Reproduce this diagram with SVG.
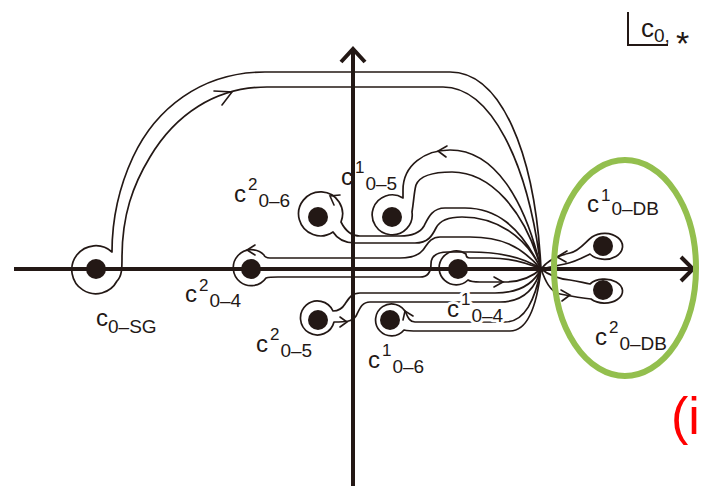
<svg xmlns="http://www.w3.org/2000/svg" width="708" height="486" viewBox="0 0 708 486">
<style>
.ln{fill:none;stroke:#231815;stroke-width:1.7;stroke-linejoin:round;stroke-linecap:round}
.ar{fill:none;stroke:#231815;stroke-width:1.6;stroke-linejoin:miter;stroke-linecap:round}
.ax{fill:none;stroke:#231815;stroke-width:4}
.dot{fill:#231815}
.lb{font-family:"Liberation Sans",Arial,sans-serif;font-size:24px;fill:#231815}
.sp{font-size:17px}
.sb{font-size:19px}
.halo{paint-order:stroke;stroke:#fff;stroke-width:6px;stroke-linejoin:round}
</style>
<rect width="708" height="486" fill="#fff"/>
<g id="axes">
<path class="ax" d="M14,269 L691,269"/>
<path class="ax" d="M681,257 L693,269 L681,281"/>
<path class="ax" d="M353,486 L353,50"/>
<path class="ax" d="M341,62 L353,49 L365,62"/>
</g>
<g id="connectors">
<path class="ln" d="M541,269 C535,150 500,72 450,72 L265,72 C200,72 155,110 133,157 C120,185 112,215 112,252 A24,24 0 1 0 117,281 C122,276 122,268 122,258 C122,215 133,185 150,157 C175,115 215,87 267,87 L443,87 C490,87 528,160 541,269"/>
<path class="ar" d="M214,91 L232,92 L222,105"/>
<path class="ln" d="M541,269 C525,200 495,150 450,150 C425,150 403,165 403,190 L403,198 A20,20 0 1 0 412,212 C414,200 414,192 416,185 C420,175 435,172 452,172 C490,172 525,210 541,269"/>
<path class="ar" d="M447,146 L438,151 L446,157"/>
<path class="ln" d="M541,269 C520,225 495,208 465,208 L445,208 C432,208 428,218 424,226 C420,233 412,236 400,236 L360,236 C352,236 346,232 341,222 A22,22 0 1 0 333,232 C338,240 345,243 355,243 L415,243 C428,243 432,236 436,228 C440,220 448,217 462,217 C495,217 525,235 541,269"/>
<path class="ar" d="M340,195 L330,196 L334,205"/>
<path class="ln" d="M541,269 C520,245 500,237 470,237 L440,237 C430,237 427,245 423,250 C418,256 410,258 400,258 L270,258 C266,258 264,256 264,255 A18,18 0 1 0 266,278 C269,277 272,277 278,277 L420,277 C428,277 431,272 431,264 C431,256 436,252 448,252 L470,252 C500,252 525,258 541,269"/>
<path class="ar" d="M255,245 L247,250 L255,255"/>
<path class="ln" d="M541,269 C525,262 510,258 490,258 L470,258 C467,258 466,256 466,254 A17,17 0 1 0 468,280 C471,282 475,282 480,282 L505,282 C520,282 532,277 541,269"/>
<path class="ar" d="M494,277 L503,282 L494,287"/>
<path class="ln" d="M541,269 C533,285 518,293 495,293 L360,293 C352,293 349,298 345,304 C342,309 339,311 333,311 A17,17 0 1 0 334,322 C345,322 352,322 356,316 C360,308 362,302 370,302 L500,302 C522,302 535,290 541,269"/>
<path class="ar" d="M340,317 L347,322 L340,327"/>
<path class="ln" d="M541,269 C535,300 525,322 505,322 L415,322 C410,322 408,318 406,313 A16,16 0 1 0 404,330 C408,331 412,331 418,331 L510,331 C528,331 537,305 541,269"/>
<path class="ar" d="M403,320 L405,311 L413,316"/>
<path class="ln" d="M541,269 C548,260 560,255 570,253 C580,251 585,242 592,237 A18,13 0 1 1 590,254 C582,258 575,262 565,264 C555,266 547,268 541,269"/>
<path class="ar" d="M567,251 L557,257 L566,262"/>
<path class="ln" d="M541,269 C550,276 560,279 570,280 C578,281 584,283 590,284 A18,12 0 1 1 591,299 C580,298 570,296 560,294 C550,292 545,280 541,269"/>
<path class="ar" d="M561,290 L570,295 L562,301"/>
</g>
<g id="node-c0-SG">
<circle class="dot" cx="96" cy="269" r="10"/>
<text class="lb" x="96" y="326">c<tspan class="sb" dy="7">0–SG</tspan></text>
</g>
<g id="node-c2-0-4">
<circle class="dot" cx="251" cy="269" r="10"/>
<text class="lb" x="185" y="302">c<tspan class="sp" dx="2" dy="-11">2</tspan><tspan class="sb" dx="1" dy="16">0–4</tspan></text>
</g>
<g id="node-c2-0-6">
<circle class="dot" cx="318" cy="217" r="10"/>
<text class="lb" x="234" y="202">c<tspan class="sp" dx="2" dy="-12">2</tspan><tspan class="sb" dx="1" dy="17">0–6</tspan></text>
</g>
<g id="node-c1-0-5">
<circle class="dot" cx="392" cy="217" r="10"/>
<text class="lb" x="341" y="185">c<tspan class="sp" dx="2" dy="-12">1</tspan><tspan class="sb" dx="1" dy="17">0–5</tspan></text>
</g>
<g id="node-c1-0-4">
<circle class="dot" cx="458" cy="269" r="10"/>
<text class="lb halo" x="447" y="317">c<tspan class="sp" dx="2" dy="-12">1</tspan><tspan class="sb" dx="1" dy="17">0–4</tspan></text>
</g>
<g id="node-c2-0-5">
<circle class="dot" cx="318" cy="320" r="10"/>
<text class="lb" x="256" y="352">c<tspan class="sp" dx="2" dy="-12">2</tspan><tspan class="sb" dx="1" dy="17">0–5</tspan></text>
</g>
<g id="node-c1-0-6">
<circle class="dot" cx="390" cy="320" r="10"/>
<text class="lb" x="368" y="368">c<tspan class="sp" dx="2" dy="-12">1</tspan><tspan class="sb" dx="1" dy="17">0–6</tspan></text>
</g>
<g id="node-c1-0-DB">
<circle class="dot" cx="603" cy="246" r="10"/>
<text class="lb" x="587" y="212">c<tspan class="sp" dx="2" dy="-11">1</tspan><tspan class="sb" dx="1" dy="14">0–DB</tspan></text>
</g>
<g id="node-c2-0-DB">
<circle class="dot" cx="603" cy="290" r="10"/>
<text class="lb" x="595" y="345">c<tspan class="sp" dx="2" dy="-12">2</tspan><tspan class="sb" dx="1" dy="17">0–DB</tspan></text>
</g>
<g id="highlight">
<ellipse cx="625" cy="268" rx="71" ry="108" fill="none" stroke="#93BF4E" stroke-width="6"/>
</g>
<g id="legend">
<path fill="none" stroke="#231815" stroke-width="2" d="M628,12 L628,45 L668,45"/>
<text class="lb" x="641" y="37" style="font-size:26px">c<tspan style="font-size:19px" dy="5">0,</tspan></text>
<text class="lb" x="676" y="55" style="font-size:34px">*</text>
</g>
<text x="671" y="434" font-family="Liberation Sans, Arial, sans-serif" font-size="52" fill="#FF0000">(i</text>
</svg>
